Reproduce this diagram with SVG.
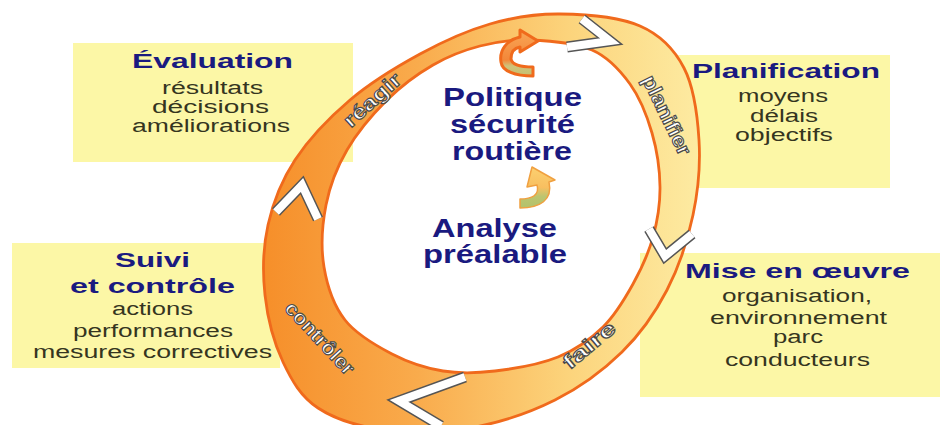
<svg xmlns="http://www.w3.org/2000/svg" width="942" height="425" viewBox="0 0 942 425">
<defs>
<style>
.box{fill:#fcf7a6;}
.ttl{font-family:"Liberation Sans",Arial,sans-serif;font-weight:bold;font-size:21px;fill:#1a1a80;text-anchor:middle;}
.txt{font-family:"Liberation Sans",Arial,sans-serif;font-size:18px;fill:#35351f;text-anchor:middle;}
.ctr{font-family:"Liberation Sans",Arial,sans-serif;font-weight:bold;font-size:25px;fill:#1a1a80;text-anchor:middle;}
.lbl{font-family:"Liberation Sans",Arial,sans-serif;font-weight:bold;font-size:20px;fill:#ffffff;stroke:#4a4a4a;stroke-width:1.1;text-anchor:middle;}
.chevO{fill:none;stroke:#555555;stroke-width:11;stroke-linejoin:miter;stroke-linecap:butt;}
.chevI{fill:none;stroke:#ffffff;stroke-width:8;stroke-linejoin:miter;stroke-linecap:butt;}
</style>
<linearGradient id="ringGrad" gradientUnits="userSpaceOnUse" x1="265" y1="0" x2="700" y2="0">
<stop offset="0" stop-color="#f68f2a"/>
<stop offset="0.35" stop-color="#f9ab4c"/>
<stop offset="0.7" stop-color="#fcd47c"/>
<stop offset="1" stop-color="#fdeba2"/>
</linearGradient>
<linearGradient id="topArrowGrad" gradientUnits="userSpaceOnUse" x1="0" y1="36" x2="0" y2="76">
<stop offset="0" stop-color="#f8a050"/>
<stop offset="0.6" stop-color="#f3873a"/>
<stop offset="0.75" stop-color="#cfc27a"/>
<stop offset="1" stop-color="#c5c070"/>
</linearGradient>
<linearGradient id="midArrowGrad" gradientUnits="userSpaceOnUse" x1="0" y1="167" x2="0" y2="208">
<stop offset="0" stop-color="#fcd070"/>
<stop offset="0.5" stop-color="#f8bf60"/>
<stop offset="0.72" stop-color="#bcc570"/>
<stop offset="1" stop-color="#b2c26c"/>
</linearGradient>
</defs>

<rect width="942" height="425" fill="#ffffff"/>

<g id="evaluation">
<rect class="box" x="73" y="43" width="280" height="119"/>
<text class="ttl" x="212.5" y="68" textLength="161" lengthAdjust="spacingAndGlyphs">Évaluation</text>
<text class="txt" x="212.5" y="94" textLength="101" lengthAdjust="spacingAndGlyphs">résultats</text>
<text class="txt" x="210.5" y="113" textLength="117" lengthAdjust="spacingAndGlyphs">décisions</text>
<text class="txt" x="211" y="132" textLength="158" lengthAdjust="spacingAndGlyphs">améliorations</text>
</g>

<g id="planification">
<rect class="box" x="678" y="55" width="212" height="133"/>
<text class="ttl" x="786" y="78" textLength="188" lengthAdjust="spacingAndGlyphs">Planification</text>
<text class="txt" x="783" y="102" textLength="90" lengthAdjust="spacingAndGlyphs">moyens</text>
<text class="txt" x="784" y="122" textLength="68" lengthAdjust="spacingAndGlyphs">délais</text>
<text class="txt" x="784" y="141" textLength="98" lengthAdjust="spacingAndGlyphs">objectifs</text>
</g>

<g id="suivi">
<rect class="box" x="12" y="243" width="268" height="125"/>
<text class="ttl" x="152.5" y="267" textLength="75" lengthAdjust="spacingAndGlyphs">Suivi</text>
<text class="ttl" x="152.5" y="293" textLength="165" lengthAdjust="spacingAndGlyphs">et contrôle</text>
<text class="txt" x="152.5" y="315" textLength="81" lengthAdjust="spacingAndGlyphs">actions</text>
<text class="txt" x="153" y="337" textLength="160" lengthAdjust="spacingAndGlyphs">performances</text>
<text class="txt" x="152.5" y="358" textLength="239" lengthAdjust="spacingAndGlyphs">mesures correctives</text>
</g>

<g id="mise-en-oeuvre">
<rect class="box" x="640" y="253" width="300" height="144"/>
<text class="ttl" x="797.5" y="278" textLength="225" lengthAdjust="spacingAndGlyphs">Mise en œuvre</text>
<text class="txt" x="797" y="302" textLength="150" lengthAdjust="spacingAndGlyphs">organisation,</text>
<text class="txt" x="798.5" y="324" textLength="177" lengthAdjust="spacingAndGlyphs">environnement</text>
<text class="txt" x="798" y="343" textLength="50" lengthAdjust="spacingAndGlyphs">parc</text>
<text class="txt" x="797.5" y="366" textLength="145" lengthAdjust="spacingAndGlyphs">conducteurs</text>
</g>

<g id="cycle">
<path fill="url(#ringGrad)" fill-rule="evenodd" stroke="#f06a1c" stroke-width="2.8" d="M560,14 C585,14.3 619.3,17 640,26 C660.7,35 674.2,49 684,68 C693.8,87 697.5,115.5 699,140 C700.5,164.5 698.3,190 693,215 C687.7,240 678.8,267.2 667,290 C655.2,312.8 640.7,333.7 622,352 C603.3,370.3 580.3,387.3 555,400 C529.7,412.7 498.3,423 470,428 C441.7,433 410.3,433.3 385,430 C359.7,426.7 335,419.3 318,408 C301,396.7 291.8,380.8 283,362 C274.2,343.2 267.5,317.8 265,295 C262.5,272.2 263,247.5 268,225 C273,202.5 281.3,180.8 295,160 C308.7,139.2 329.2,117.7 350,100 C370.8,82.3 396.7,66.7 420,54 C443.3,41.3 466.7,30.7 490,24 C513.3,17.3 535,13.7 560,14 Z M530,40 C548.7,40.7 575.3,42.7 592,50 C608.7,57.3 620,70.2 630,84 C640,97.8 647,115.8 652,133 C657,150.2 659.8,169.7 660,187 C660.2,204.3 657.5,220.8 653,237 C648.5,253.2 641.3,269 633,284 C624.7,299 615.5,314.8 603,327 C590.5,339.2 576,349.7 558,357 C540,364.3 514.2,368.7 495,371 C475.8,373.3 460.2,373.8 443,371 C425.8,368.2 408.3,362.5 392,354 C375.7,345.5 356.3,334.5 345,320 C333.7,305.5 327.2,286.2 324,267 C320.8,247.8 322.2,224.5 326,205 C329.8,185.5 336.8,167.5 347,150 C357.2,132.5 372.7,114.2 387,100 C401.3,85.8 417.5,74 433,65 C448.5,56 463.8,50.2 480,46 C496.2,41.8 511.3,39.3 530,40 Z"/>
<text class="lbl" transform="translate(372,100) rotate(-42)" x="0" y="7" textLength="70" lengthAdjust="spacingAndGlyphs">réagir</text>
<text class="lbl" transform="translate(667,115) rotate(64)" x="0" y="7" textLength="86" lengthAdjust="spacingAndGlyphs">planifier</text>
<text class="lbl" transform="translate(589,345) rotate(-40)" x="0" y="7" textLength="62" lengthAdjust="spacingAndGlyphs">faire</text>
<text class="lbl" transform="translate(320,338) rotate(47)" x="0" y="7" textLength="92" lengthAdjust="spacingAndGlyphs">contrôler</text>
</g>

<g id="connectors">
<polyline class="chevO" points="582,19 610,41 567,47"/>
<polyline class="chevI" points="582,19 610,41 567,47"/>
<polyline class="chevO" points="649,229 665,256 692,234"/>
<polyline class="chevI" points="649,229 665,256 692,234"/>
<polyline class="chevO" points="465,377 399,401 441,426"/>
<polyline class="chevI" points="465,377 399,401 441,426"/>
<polyline class="chevO" points="276,212 302,185 318,219"/>
<polyline class="chevI" points="276,212 302,185 318,219"/>
<path fill="url(#topArrowGrad)" stroke="#f06a1c" stroke-width="3" stroke-linejoin="round" d="M520,30 L538,41 L520,52 L520,47 C514,48 511,52 511,59 C512,65 520,67 533,67 L533,76 C515,76 502,71 501,62 C499,50 507,40 520,37 Z"/>
<path fill="url(#midArrowGrad)" stroke="#f0a040" stroke-width="1.5" stroke-linejoin="round" d="M520,208 C540,208 553,200 549,182 L555,180 L532,167 L527,187 L537,185 C540,195 532,199 520,199 Z"/>
</g>

<g id="politique">
<text class="ctr" x="512.5" y="106" textLength="139" lengthAdjust="spacingAndGlyphs">Politique</text>
<text class="ctr" x="512.5" y="133" textLength="125" lengthAdjust="spacingAndGlyphs">sécurité</text>
<text class="ctr" x="512" y="160" textLength="120" lengthAdjust="spacingAndGlyphs">routière</text>
</g>

<g id="analyse">
<text class="ctr" x="494.5" y="237" textLength="125" lengthAdjust="spacingAndGlyphs">Analyse</text>
<text class="ctr" x="495" y="263" textLength="144" lengthAdjust="spacingAndGlyphs">préalable</text>
</g>
</svg>
